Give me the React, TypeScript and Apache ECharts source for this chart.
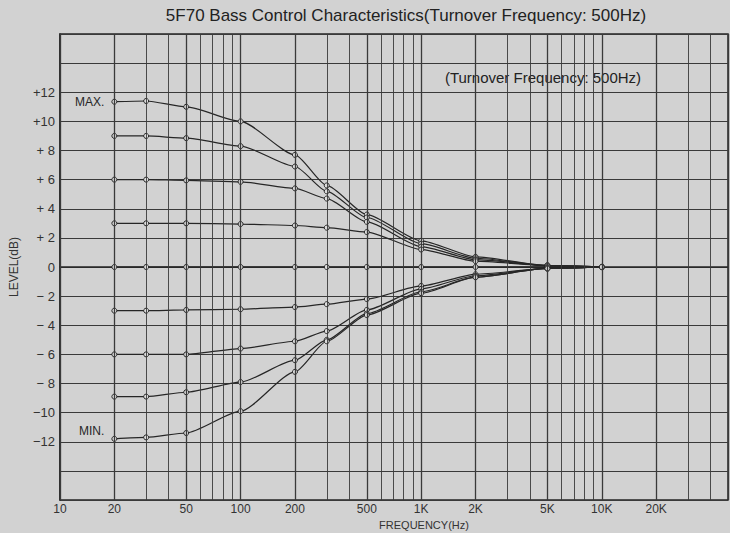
import React, { useEffect, useRef } from "react";
import * as echarts from "echarts";

const freqs = [20, 30, 50, 100, 200, 300, 500, 1000, 2000, 5000, 10000];
const levelMax = [11.35, 11.4, 11.0, 10.0, 7.7, 5.6, 3.6, 1.8, 0.7, 0.1, 0];
const levelP9 = [9.0, 9.0, 8.85, 8.3, 6.9, 5.2, 3.4, 1.6, 0.6, 0.1, 0];
const levelP6 = [6.0, 6.0, 5.95, 5.85, 5.4, 4.7, 3.1, 1.4, 0.5, 0.1, 0];
const levelP3 = [3.0, 3.0, 3.0, 2.95, 2.85, 2.7, 2.4, 1.2, 0.4, 0.1, 0];
const levelFlat = [0, 0, 0, 0, 0, 0, 0, 0, 0, 0, 0];
const levelM3 = [-3.0, -3.0, -2.95, -2.9, -2.75, -2.55, -2.2, -1.3, -0.5, -0.1, 0];
const levelM6 = [-6.0, -6.0, -6.0, -5.6, -5.1, -4.4, -2.95, -1.5, -0.6, -0.1, 0];
const levelM9 = [-8.9, -8.9, -8.6, -7.9, -6.4, -5.0, -3.2, -1.7, -0.7, -0.1, 0];
const levelMin = [-11.8, -11.7, -11.4, -9.9, -7.2, -5.1, -3.3, -1.8, -0.7, -0.1, 0];

const xTickValues = [10, 20, 50, 100, 200, 500, 1000, 2000, 5000, 10000, 20000];
const xTickLabels = ["10", "20", "50", "100", "200", "500", "1K", "2K", "5K", "10K", "20K"];
const gridDecades = [10, 100, 1000, 10000];
const gridMultiples = [1, 2, 3, 4, 5, 6, 7, 8, 9];

const FONT = "'Liberation Sans', Arial, sans-serif";
const INK = "#262626";

function yLabel(v: number): string {
  if (Math.abs(v) > 12) return "";
  if (v === 0) return "0";
  const a = Math.abs(v);
  const s = a < 10 ? " " + a : String(a);
  return (v > 0 ? "+" : "\u2212") + s;
}

export default function App() {
  const ref = useRef<HTMLDivElement>(null);
  useEffect(() => {
    document.body.style.margin = "0";
    if (!ref.current) return;
    const chart = echarts.init(ref.current, undefined, { renderer: "svg" });

    const gridLines: any[] = [];
    gridDecades.forEach((d) => {
      gridMultiples.forEach((m) => {
        const f = d * m;
        if (f > 50000) return;
        const idx = xTickValues.indexOf(f);
        gridLines.push({
          xAxis: f,
          lineStyle: { width: m === 1 || m === 2 || m === 5 ? 1.3 : 0.9 },
          label: {
            show: idx >= 0,
            formatter: idx >= 0 ? xTickLabels[idx] : "",
          },
        });
      });
    });

    const curves = [
      { name: "MAX", data: levelMax, tag: "MAX.", off: [0, 0] },
      { name: "+9", data: levelP9 },
      { name: "+6", data: levelP6 },
      { name: "+3", data: levelP3 },
      { name: "0", data: levelFlat, grid: true },
      { name: "-3", data: levelM3 },
      { name: "-6", data: levelM6 },
      { name: "-9", data: levelM9 },
      { name: "MIN", data: levelMin, tag: "MIN.", off: [0, -8] },
    ];

    const series: any[] = curves.map((c: any) => ({
      type: "line",
      name: c.name,
      smooth: 0.22,
      smoothMonotone: "x",
      symbol: "circle",
      symbolSize: 5,
      showAllSymbol: true,
      lineStyle: { color: INK, width: 1.2 },
      itemStyle: { color: "#dcdcdc", borderColor: INK, borderWidth: 1 },
      data: freqs.map((f, i) => {
        const item: any = { value: [f, c.data[i]] };
        if (i === 0 && c.tag) {
          item.label = {
            show: true,
            position: "left",
            distance: 7,
            offset: c.off,
            formatter: c.tag,
            color: INK,
            fontSize: 12,
            fontFamily: FONT,
          };
        }
        return item;
      }),
      markLine: c.grid
        ? {
            silent: true,
            symbol: ["none", "none"],
            lineStyle: { color: "#3a3a3a", type: "solid", width: 1 },
            label: {
              position: "start",
              distance: 3,
              color: "#333",
              fontSize: 12,
              fontFamily: FONT,
            },
            data: gridLines,
          }
        : undefined,
      z: 3,
    }));

    chart.setOption({
      animation: false,
      backgroundColor: "#d2d2d2",
      grid: {
        left: 59,
        right: 2,
        top: 34,
        bottom: 33,
        show: true,
        borderColor: INK,
        borderWidth: 1.5,
        backgroundColor: "transparent",
      },
      xAxis: {
        type: "log",
        min: 10,
        max: 50000,
        logBase: 10,
        axisLabel: { show: false },
        axisTick: { show: false },
        splitLine: { show: false },
        axisLine: { show: true, lineStyle: { color: INK, width: 1.5 } },
      },
      yAxis: {
        type: "value",
        min: -16,
        max: 16,
        interval: 2,
        name: "LEVEL(dB)",
        nameLocation: "middle",
        nameGap: 40,
        nameTextStyle: { color: "#333", fontSize: 12, fontFamily: FONT },
        axisLabel: {
          color: "#333",
          fontSize: 13,
          fontFamily: FONT,
          margin: 5,
          formatter: (v: number) => yLabel(v),
        },
        axisTick: { show: false },
        axisLine: { show: true, lineStyle: { color: INK, width: 1.5 } },
        splitLine: { show: true, lineStyle: { color: "#3a3a3a", width: 1 } },
      },
      graphic: [
        {
          type: "text",
          x: 406,
          y: 15,
          style: {
            text: "5F70 Bass Control Characteristics(Turnover Frequency: 500Hz)",
            fill: "#222",
            font: "17px " + FONT,
            textAlign: "center",
            textVerticalAlign: "middle",
          },
        },
        {
          type: "text",
          x: 543,
          y: 77,
          style: {
            text: "(Turnover Frequency: 500Hz)",
            fill: "#222",
            font: "15px " + FONT,
            textAlign: "center",
            textVerticalAlign: "middle",
          },
        },
        {
          type: "text",
          x: 424,
          y: 525,
          style: {
            text: "FREQUENCY(Hz)",
            fill: "#333",
            font: "11px " + FONT,
            textAlign: "center",
            textVerticalAlign: "middle",
          },
        },
      ],
      series,
    });
    return () => chart.dispose();
  }, []);
  return <div ref={ref} style={{ width: 730, height: 533 }} />;
}
